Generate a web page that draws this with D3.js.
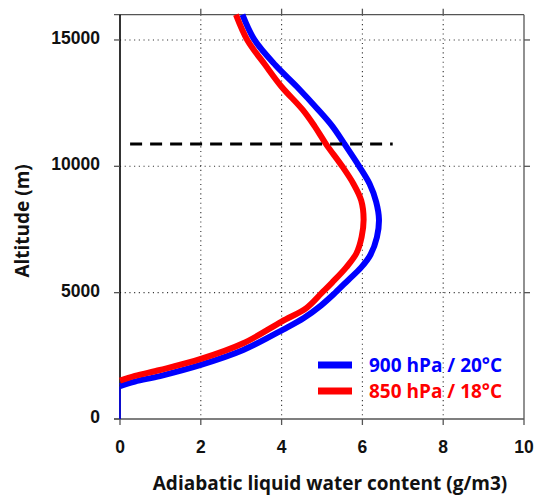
<!DOCTYPE html>
<html>
<head>
<meta charset="utf-8">
<script src="https://cdn.jsdelivr.net/npm/d3@7"></script>
<style>
  body { margin: 0; background: #fff; }
  svg { display: block; }
</style>
</head>
<body>
<svg id="chart"></svg>
<script>
// altitude (m) and adiabatic LWC (g/m3)
const blueAlt = [1300, 1480, 1700, 2140, 2730, 3550, 4000, 4500, 5000, 5500, 6000, 6500, 7200, 7900, 8600, 9300, 10000, 10900, 11600, 12250, 13150, 14000, 15000, 16000];
const blueLwc = [0, 0.37, 0.99, 2.0, 3.05, 4.05, 4.55, 4.98, 5.33, 5.65, 5.97, 6.2, 6.36, 6.41, 6.34, 6.18, 5.92, 5.55, 5.25, 4.9, 4.38, 3.85, 3.33, 3.03];
const redAlt = [1517, 1703, 1940, 2376, 2997, 3855, 4400, 5000, 5400, 6000, 6550, 7200, 7900, 8650, 9330, 10000, 10880, 11580, 12240, 13150, 14000, 15000, 16000];
const redLwc = [0, 0.37, 0.99, 2.0, 3.05, 4.0, 4.62, 5.0, 5.25, 5.6, 5.85, 5.98, 6.03, 5.97, 5.77, 5.5, 5.1, 4.82, 4.52, 4.0, 3.6, 3.15, 2.87];
// thin blue segment at zero below cloud base
const baseAlt = [0, 1300];
const baseLwc = [0, 0];
// tropopause marker
const tropoAlt = 10880;
const tropoLwc = [0.25, 6.75];

const xTicks = [0, 2, 4, 6, 8, 10];
const yTicks = [0, 5000, 10000, 15000];
const gridX = [2, 4, 6, 8];
const gridY = [5000, 10000, 15000];

const seriesNames = ["900 hPa / 20°C", "850 hPa / 18°C"];
const seriesColors = ["#0000ff", "#ff0000"];

const width = 536, height = 496;
const margin = { top: 14.7, right: 12, bottom: 77, left: 120 };

const svg = d3.select("#chart").attr("width", width).attr("height", height);

const x = d3.scaleLinear().domain([0, 10]).range([margin.left, width - margin.right]);
const y = d3.scaleLinear().domain([0, 16000]).range([height - margin.bottom, margin.top]);

const x0 = x(0), x1 = x(10), y0 = y(0), y1 = y(16000);

// dotted grid
const grid = svg.append("g")
  .attr("stroke", "#333")
  .attr("stroke-width", 1.1)
  .attr("stroke-dasharray", "1.1,3.6");
grid.selectAll(".gx").data(gridX).enter().append("line")
  .attr("x1", d => x(d)).attr("x2", d => x(d))
  .attr("y1", y1).attr("y2", y0);
grid.selectAll(".gy").data(gridY).enter().append("line")
  .attr("x1", x0).attr("x2", x1)
  .attr("y1", d => y(d)).attr("y2", d => y(d));

// frame and ticks
const frame = svg.append("g").attr("stroke", "#555").attr("stroke-width", 1.3);
frame.append("line").attr("x1", x0 - 6).attr("x2", x1).attr("y1", y1).attr("y2", y1);
frame.append("line").attr("x1", x0 - 6).attr("x2", x1).attr("y1", y0).attr("y2", y0);
frame.append("line").attr("x1", x1).attr("x2", x1).attr("y1", y1).attr("y2", y0);
frame.append("line").attr("x1", x0).attr("x2", x0).attr("y1", y1).attr("y2", y0)
  .attr("stroke", "#000").attr("stroke-width", 1.6);

frame.selectAll(".tb").data(xTicks).enter().append("line")
  .attr("x1", d => x(d)).attr("x2", d => x(d))
  .attr("y1", y0).attr("y2", y0 + 6);
frame.selectAll(".tt").data(gridX).enter().append("line")
  .attr("x1", d => x(d)).attr("x2", d => x(d))
  .attr("y1", y1).attr("y2", y1 - 6);
frame.selectAll(".tl").data(yTicks).enter().append("line")
  .attr("x1", x0 - 6).attr("x2", x0)
  .attr("y1", d => y(d)).attr("y2", d => y(d));
frame.selectAll(".tr").data(gridY).enter().append("line")
  .attr("x1", x1).attr("x2", x1 + 6)
  .attr("y1", d => y(d)).attr("y2", d => y(d));

// tick labels
const tickFont = "'Liberation Sans', Arial, sans-serif";
svg.selectAll(".xl").data(xTicks).enter().append("text")
  .attr("x", d => x(d)).attr("y", y0 + 34)
  .attr("text-anchor", "middle")
  .style("font-family", tickFont).style("font-weight", "bold").style("font-size", "17.5px")
  .attr("fill", "#111")
  .text(d => d);
svg.selectAll(".yl").data(yTicks).enter().append("text")
  .attr("x", 100).attr("y", d => y(d) + 4)
  .attr("text-anchor", "end")
  .style("font-family", tickFont).style("font-weight", "bold").style("font-size", "17.5px")
  .attr("fill", "#111")
  .text(d => d);

// axis titles
const titleFont = "'Open Sans', 'Noto Sans', sans-serif";
svg.append("text")
  .attr("x", 330).attr("y", 490)
  .attr("text-anchor", "middle")
  .style("font-family", titleFont).style("font-weight", "bold").style("font-size", "19px")
  .attr("fill", "#111")
  .text("Adiabatic liquid water content (g/m3)");
svg.append("text")
  .attr("transform", `translate(29,${y(7840)}) rotate(-90)`)
  .attr("text-anchor", "middle")
  .style("font-family", titleFont).style("font-weight", "bold").style("font-size", "19px")
  .attr("fill", "#111")
  .text("Altitude (m)");

// curves
const line = d3.line()
  .x(d => x(d[0]))
  .y(d => y(d[1]))
  .curve(d3.curveCatmullRom.alpha(0.5));

svg.append("path")
  .datum(d3.zip(baseLwc, baseAlt))
  .attr("fill", "none").attr("stroke", seriesColors[0]).attr("stroke-width", 1.5)
  .attr("d", line);

const series = [d3.zip(blueLwc, blueAlt), d3.zip(redLwc, redAlt)];
svg.selectAll(".curve").data(series).enter().append("path")
  .attr("fill", "none")
  .attr("stroke", (d, i) => seriesColors[i])
  .attr("stroke-width", 6)
  .attr("stroke-linejoin", "round")
  .attr("d", line);

// dashed tropopause line
svg.append("line")
  .attr("x1", x(tropoLwc[0])).attr("x2", x(tropoLwc[1]))
  .attr("y1", y(tropoAlt)).attr("y2", y(tropoAlt))
  .attr("stroke", "#000").attr("stroke-width", 3)
  .attr("stroke-dasharray", "12,8");

// legend
const legend = svg.append("g");
seriesNames.forEach((name, i) => {
  const ly = 365 + i * 26;
  legend.append("line")
    .attr("x1", 318).attr("x2", 352).attr("y1", ly).attr("y2", ly)
    .attr("stroke", seriesColors[i]).attr("stroke-width", 7);
  legend.append("text")
    .attr("x", 369).attr("y", ly + 7)
    .style("font-family", titleFont).style("font-weight", "bold").style("font-size", "19px")
    .attr("fill", seriesColors[i])
    .text(name);
});
</script>
</body>
</html>
